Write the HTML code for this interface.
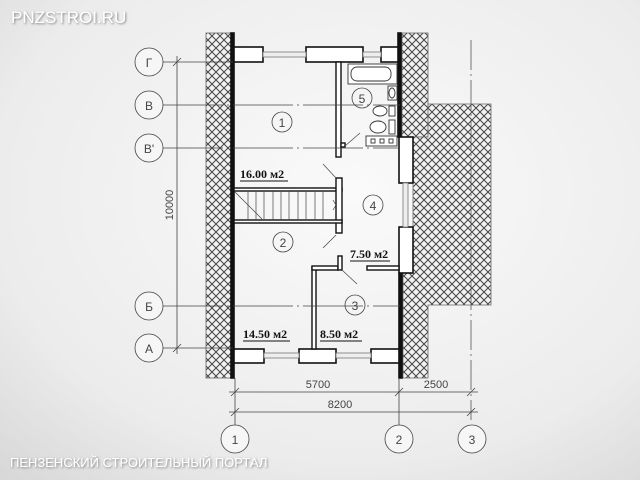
<!DOCTYPE html>
<html><head><meta charset="utf-8"><style>
html,body{margin:0;padding:0;width:640px;height:480px;overflow:hidden;background:#eee}
svg{display:block}
.t{font-family:"Liberation Sans",sans-serif;font-size:12px;fill:#444}
.a{font-family:"Liberation Serif",serif;font-weight:bold;font-size:12px;fill:#111}
</style></head><body>
<svg width="640" height="480" viewBox="0 0 640 480" xmlns="http://www.w3.org/2000/svg">
<defs>
<radialGradient id="bg" cx="0.55" cy="0.4" r="0.8"><stop offset="0" stop-color="#fafafa"/><stop offset="0.7" stop-color="#ececec"/><stop offset="1" stop-color="#d8d8d8"/></radialGradient>
<pattern id="h" width="8" height="8" patternUnits="userSpaceOnUse"><rect width="8" height="8" fill="#f2f2f2"/><path d="M0 0L8 8M8 0L0 8" stroke="#444" stroke-width="1"/></pattern>
<filter id="sh"><feDropShadow dx="1" dy="1" stdDeviation="1" flood-color="#666" flood-opacity="0.8"/></filter>
</defs>
<rect width="640" height="480" fill="url(#bg)"/>
<g stroke="#666" stroke-width="0.8" fill="url(#h)">
<rect x="206" y="33" width="25" height="345"/>
<rect x="402" y="33" width="26" height="104"/>
<path d="M428 104H491V305H428V378H403V273H413V137H428Z"/>
</g>
<line x1="471" y1="40" x2="471" y2="420" stroke="#555" stroke-width="0.8" stroke-dasharray="30,4,2,4"/>
<g fill="#fff" stroke="#111" stroke-width="1.6">
<rect x="231" y="33" width="3" height="345" fill="#111"/>
<rect x="398" y="33" width="3" height="104" fill="#111"/>
<rect x="399" y="273" width="3" height="105" fill="#111"/>
<rect x="234" y="47" width="29" height="15"/>
<rect x="306" y="47" width="57" height="15"/>
<rect x="381" y="47" width="17" height="15"/>
<rect x="234" y="349" width="30" height="14"/>
<rect x="299" y="349" width="37" height="14"/>
<rect x="371" y="349" width="28" height="14"/>
<rect x="399" y="137" width="14" height="46"/>
<rect x="399" y="227" width="14" height="46"/>
</g>
<g stroke="#777" stroke-width="0.8" fill="#eee">
<rect x="263" y="52" width="43" height="5"/><rect x="363" y="52" width="18" height="5"/>
<rect x="264" y="353" width="35" height="5"/><rect x="336" y="353" width="35" height="5"/>
<rect x="403" y="183" width="5" height="44"/>
</g>
<g fill="#fff" stroke="#111" stroke-width="1.4">
<rect x="336" y="62" width="5" height="95"/>
<rect x="341" y="143" width="4" height="4"/>
<rect x="234" y="188" width="108" height="3"/>
<rect x="336" y="178" width="6" height="55"/>
<rect x="234" y="220" width="108" height="3"/>
<rect x="312" y="267" width="4" height="82"/>
<rect x="312" y="266" width="26" height="4"/>
<rect x="338" y="256" width="4" height="14"/>
<rect x="367" y="266" width="32" height="4"/>
</g>
<g stroke="#444" stroke-width="0.7">
<line x1="248" y1="191" x2="248" y2="220"/><line x1="256" y1="191" x2="256" y2="220"/><line x1="264" y1="191" x2="264" y2="220"/><line x1="273" y1="191" x2="273" y2="220"/><line x1="281" y1="191" x2="281" y2="220"/><line x1="289" y1="191" x2="289" y2="220"/><line x1="298" y1="191" x2="298" y2="220"/><line x1="306" y1="191" x2="306" y2="220"/><line x1="315" y1="191" x2="315" y2="220"/><line x1="323" y1="191" x2="323" y2="220"/>
<line x1="235" y1="192" x2="262" y2="219"/>
<path d="M333 200L336 205L333 210" fill="none"/>
<line x1="323" y1="164" x2="336" y2="178"/><line x1="323" y1="248" x2="336" y2="235"/>
<line x1="345" y1="146" x2="360" y2="133"/><line x1="342" y1="270" x2="357" y2="284"/>
</g>
<g fill="#fff" stroke="#333" stroke-width="0.9">
<rect x="348" y="64" width="49" height="20"/><rect x="351" y="67" width="40" height="14" rx="6"/>
<rect x="388" y="86" width="9" height="14"/><ellipse cx="392" cy="93" rx="3" ry="5"/>
<ellipse cx="380" cy="111" rx="7" ry="5"/><rect x="389" y="106" width="6" height="10"/>
<ellipse cx="378" cy="127" rx="8" ry="6"/><rect x="389" y="120" width="6" height="14"/>
<rect x="366" y="136" width="31" height="10"/>
<rect x="371" y="139" width="4" height="4"/><rect x="380" y="139" width="4" height="4"/><rect x="389" y="139" width="4" height="4"/>
</g>
<g stroke="#444" stroke-width="0.8" fill="none">
<line x1="163" y1="62" x2="233" y2="62"/>
<line x1="163" y1="105" x2="400" y2="105" stroke-dasharray="60,4,2,4"/>
<line x1="163" y1="148" x2="400" y2="148" stroke-dasharray="60,4,2,4"/>
<line x1="163" y1="306" x2="400" y2="306" stroke-dasharray="60,4,2,4"/>
<line x1="163" y1="348" x2="233" y2="348"/>
<line x1="177" y1="56" x2="177" y2="354"/>
<line x1="173" y1="66" x2="181" y2="58"/><line x1="173" y1="352" x2="181" y2="344"/>
<line x1="235" y1="378" x2="235" y2="425"/><line x1="399" y1="378" x2="399" y2="425"/>
<line x1="229" y1="392" x2="478" y2="392"/><line x1="229" y1="412" x2="478" y2="412"/>
<line x1="231" y1="396" x2="239" y2="388"/><line x1="395" y1="396" x2="403" y2="388"/><line x1="467" y1="396" x2="475" y2="388"/>
<line x1="231" y1="416" x2="239" y2="408"/><line x1="467" y1="416" x2="475" y2="408"/>
<circle cx="149" cy="62" r="14" fill="#f6f6f6"/><circle cx="149" cy="105" r="14" fill="#f6f6f6"/><circle cx="149" cy="148" r="14" fill="#f6f6f6"/><circle cx="149" cy="306" r="14" fill="#f6f6f6"/><circle cx="149" cy="348" r="14" fill="#f6f6f6"/>
<circle cx="235" cy="439" r="14" fill="#f6f6f6"/><circle cx="399" cy="439" r="14" fill="#f6f6f6"/><circle cx="472" cy="439" r="14" fill="#f6f6f6"/>
<circle cx="282" cy="122" r="10"/><circle cx="362" cy="98" r="10"/><circle cx="373" cy="205" r="10"/><circle cx="283" cy="242" r="10"/><circle cx="355" cy="305" r="10"/>
</g>
<g class="t" text-anchor="middle">
<text x="149" y="67">Г</text><text x="149" y="110">В</text><text x="149" y="153">В'</text><text x="149" y="311">Б</text><text x="149" y="353">А</text>
<text x="235" y="444">1</text><text x="399" y="444">2</text><text x="472" y="444">3</text>
<text x="282" y="127">1</text><text x="362" y="103">5</text><text x="373" y="210">4</text><text x="283" y="247">2</text><text x="355" y="310">3</text>
<text x="318" y="388" font-size="11">5700</text><text x="436" y="388" font-size="11">2500</text><text x="340" y="408" font-size="11">8200</text>
<text x="0" y="0" font-size="11" transform="translate(173,205) rotate(-90)">10000</text>
</g>
<g class="a">
<text x="240" y="178">16.00 м2</text><line x1="240" y1="181" x2="288" y2="181" stroke="#111"/>
<text x="350" y="258">7.50 м2</text><line x1="350" y1="261" x2="390" y2="261" stroke="#111"/>
<text x="243" y="338">14.50 м2</text><line x1="243" y1="341" x2="290" y2="341" stroke="#111"/>
<text x="320" y="338">8.50 м2</text><line x1="320" y1="341" x2="362" y2="341" stroke="#111"/>
</g>
<text x="11" y="23" font-family="Liberation Sans,sans-serif" font-size="17" fill="#fff" filter="url(#sh)">PNZSTROI.RU</text>
<text x="10" y="467" font-family="Liberation Sans,sans-serif" font-size="13" fill="#fff" filter="url(#sh)">ПЕНЗЕНСКИЙ СТРОИТЕЛЬНЫЙ ПОРТАЛ</text>
</svg>
</body></html>
